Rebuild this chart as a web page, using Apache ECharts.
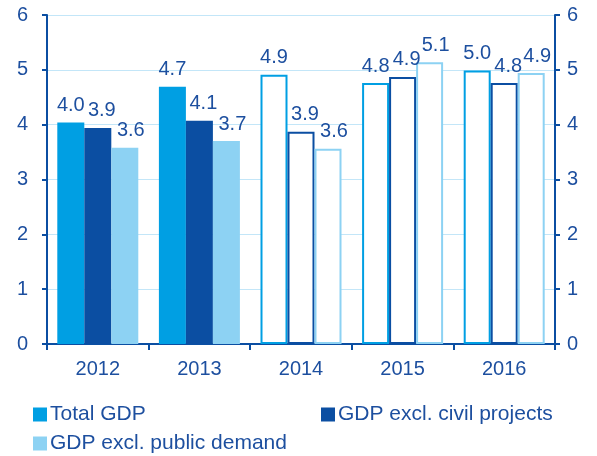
<!DOCTYPE html>
<html>
<head>
<meta charset="utf-8">
<script src="https://cdn.jsdelivr.net/npm/echarts@6/dist/echarts.min.js"></script>
<style>
html,body{margin:0;padding:0;background:#fff;}
#chart{width:597px;height:456px;}
</style>
</head>
<body>
<div id="chart"></div>
<script>
// 数据
var years = ['2012', '2013', '2014', '2015', '2016'];
var totalGdp = [4.04, 4.69, 4.91, 4.76, 4.99];
var exclCivil = [3.94, 4.07, 3.87, 4.87, 4.76];
var exclPublic = [3.58, 3.70, 3.56, 5.14, 4.94];
var forecastFrom = 2; // 2014年起为预测（空心柱）

var colTotal = '#009fe3';
var colCivil = '#0b4ea2';
var colPublic = '#8dd2f3';
var textCol = '#1d4f9f';
var fontName = 'Liberation Sans, Arial, sans-serif';

function buildData(values, color) {
  let out = [];
  for (let i = 0; i < values.length; i++) {
    if (i >= forecastFrom) {
      out.push({ value: values[i], itemStyle: { color: '#fff', borderColor: color, borderWidth: 2 } });
    } else {
      out.push({ value: values[i] });
    }
  }
  return out;
}

function barSeries(name, values, color, dx) {
  return {
    name: name,
    type: 'bar',
    barWidth: 27,
    barGap: '0%',
    itemStyle: { color: color },
    data: buildData(values, color),
    label: {
      show: true,
      position: 'top',
      distance: 7,
      offset: [dx, 0],
      color: textCol,
      fontSize: 20,
      fontFamily: fontName,
      formatter: function (p) { return p.value.toFixed(1); }
    }
  };
}

function yAxisCfg(pos) {
  return {
    type: 'value',
    position: pos,
    min: 0,
    max: 6,
    interval: 1,
    axisLine: { show: true, lineStyle: { color: colCivil, width: 2 } },
    axisTick: { show: true, length: 5, lineStyle: { color: colCivil, width: 2 } },
    axisLabel: { color: textCol, fontSize: 20, fontFamily: fontName, margin: pos == 'left' ? 19 : 12 },
    splitLine: { show: pos == 'left', lineStyle: { color: '#c3e6f8', width: 1 } }
  };
}

function legendCfg(name, color, left, top) {
  return {
    data: [{ name: name, itemStyle: { color: color } }],
    left: left,
    top: top,
    itemWidth: 14,
    itemHeight: 14,
    itemGap: 0,
    padding: 0,
    icon: 'rect',
    textStyle: { color: textCol, fontSize: 21, fontFamily: fontName, padding: [0, 0, 0, -2] },
    selectedMode: false
  };
}

var myChart = echarts.init(document.getElementById('chart'));
myChart.setOption({
  animation: false,
  grid: { left: 47, right: 42, top: 15, bottom: 112, containLabel: false },
  legend: [
    legendCfg('Total GDP', colTotal, 33, 404),
    legendCfg('GDP excl. civil projects', colCivil, 321, 404),
    legendCfg('GDP excl. public demand', colPublic, 33, 433)
  ],
  xAxis: {
    type: 'category',
    data: years,
    axisLine: { show: true, lineStyle: { color: colCivil, width: 2 } },
    axisTick: { show: true, length: 6, lineStyle: { color: colCivil, width: 2 } },
    axisLabel: { color: textCol, fontSize: 20, fontFamily: fontName, margin: 15 }
  },
  yAxis: [yAxisCfg('left'), yAxisCfg('right')],
  series: [
    barSeries('Total GDP', totalGdp, colTotal, 0),
    barSeries('GDP excl. civil projects', exclCivil, colCivil, 4),
    barSeries('GDP excl. public demand', exclPublic, colPublic, 6)
  ]
});
</script>
</body>
</html>
